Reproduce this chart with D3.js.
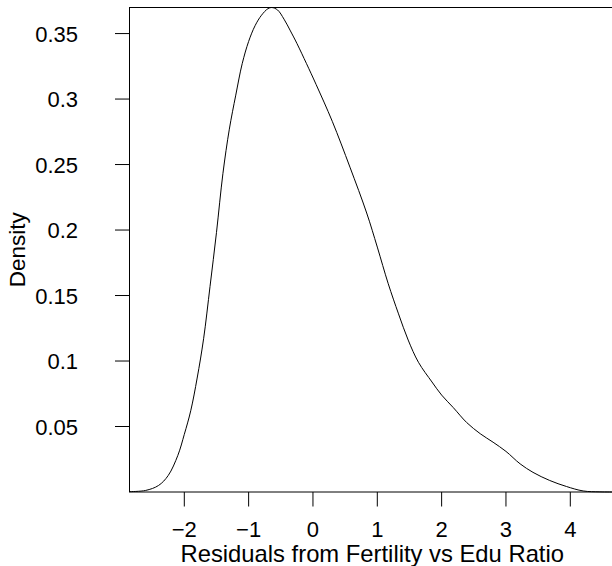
<!DOCTYPE html>
<html>
<head>
<meta charset="utf-8">
<script src="https://cdn.jsdelivr.net/npm/d3@7"></script>
<style>
  body { margin: 0; background: #fff; }
  text { font-family: "Liberation Sans", Arial, sans-serif; fill: #000; }
</style>
</head>
<body>
<div id="chart"></div>
<script>
const width = 612,
height = 566;

// density estimate of residuals
const resid = [-2.85, -2.6, -2.4, -2.25, -2.1, -2.0, -1.9, -1.8, -1.7, -1.6, -1.5, -1.4, -1.3, -1.2, -1.1, -1.0,
  -0.9, -0.8, -0.7, -0.64, -0.55, -0.45, -0.35, -0.25, -0.1, 0.05, 0.3, 0.575, 0.835, 1.0, 1.17, 1.33, 1.48,
  1.64, 1.85, 2.0, 2.18, 2.39, 2.6, 2.8, 3.0, 3.22, 3.42, 3.68, 3.94, 4.2, 4.46, 4.7]
const density = [0.0003, 0.0012, 0.005, 0.0126, 0.028, 0.044, 0.062, 0.087, 0.117, 0.157, 0.198, 0.243, 0.277, 0.303, 0.327, 0.344,
  0.356, 0.364, 0.369, 0.3699, 0.368, 0.361, 0.352, 0.3425, 0.327, 0.311, 0.283, 0.248, 0.213, 0.187, 0.159, 0.136, 0.116,
  0.099, 0.084, 0.074, 0.0645, 0.053, 0.0445, 0.038, 0.031, 0.0215, 0.015, 0.0088, 0.0042, 0.0008, 0.0001, 0.0]

const xTicks = [-2, -1, 0, 1, 2, 3, 4]
const yTicks = [0.05, 0.1, 0.15, 0.2, 0.25, 0.3, 0.35]

const xTitle = "Residuals from Fertility vs Edu Ratio",
yTitle = "Density"

const plotLeft = 129.5, plotTop = 7.5, plotBottom = 492

let x = d3.scaleLinear().domain([-2, 4]).range([184.3, 570.3])
let y = d3.scaleLinear().domain([0, 0.3699]).range([plotBottom, plotTop])

let svg = d3.select("#chart").append("svg")
  .attr("width", width).attr("height", height)

// density line
let line = d3.line()
  .x((d, i) => x(resid[i]))
  .y(d => y(d))
  .curve(d3.curveCatmullRom.alpha(0.5))

svg.append("path")
  .datum(density)
  .attr("fill", "none")
  .attr("stroke", "#000")
  .attr("stroke-width", 1)
  .attr("d", line)

// box (right side runs off the page)
svg.append("rect")
  .attr("x", plotLeft).attr("y", plotTop)
  .attr("width", 700).attr("height", plotBottom - plotTop)
  .attr("fill", "none").attr("stroke", "#000").attr("stroke-width", 1)

// x axis
let xAxis = svg.append("g")
xAxis.selectAll("line").data(xTicks).join("line")
  .attr("x1", d => x(d)).attr("x2", d => x(d))
  .attr("y1", plotBottom).attr("y2", plotBottom + 14.5)
  .attr("stroke", "#000")
xAxis.selectAll("text").data(xTicks).join("text")
  .attr("x", d => x(d)).attr("y", 537)
  .attr("text-anchor", "middle")
  .attr("font-size", 22)
  .text(d => d < 0 ? "\u2212" + Math.abs(d) : d)

// y axis
let yAxis = svg.append("g")
yAxis.selectAll("line").data(yTicks).join("line")
  .attr("x1", plotLeft - 14.5).attr("x2", plotLeft)
  .attr("y1", d => y(d)).attr("y2", d => y(d))
  .attr("stroke", "#000")
yAxis.selectAll("text").data(yTicks).join("text")
  .attr("x", 78).attr("y", d => y(d) + 8)
  .attr("text-anchor", "end")
  .attr("font-size", 22)
  .text(d => d)

// titles
svg.append("text")
  .attr("x", (plotLeft + 612) / 2 + 1.5).attr("y", 562)
  .attr("text-anchor", "middle")
  .attr("font-size", 23.8)
  .text(xTitle)

svg.append("text")
  .attr("transform", "translate(25," + ((plotTop + plotBottom) / 2) + ") rotate(-90)")
  .attr("text-anchor", "middle")
  .attr("font-size", 22.5)
  .text(yTitle)
</script>
</body>
</html>
